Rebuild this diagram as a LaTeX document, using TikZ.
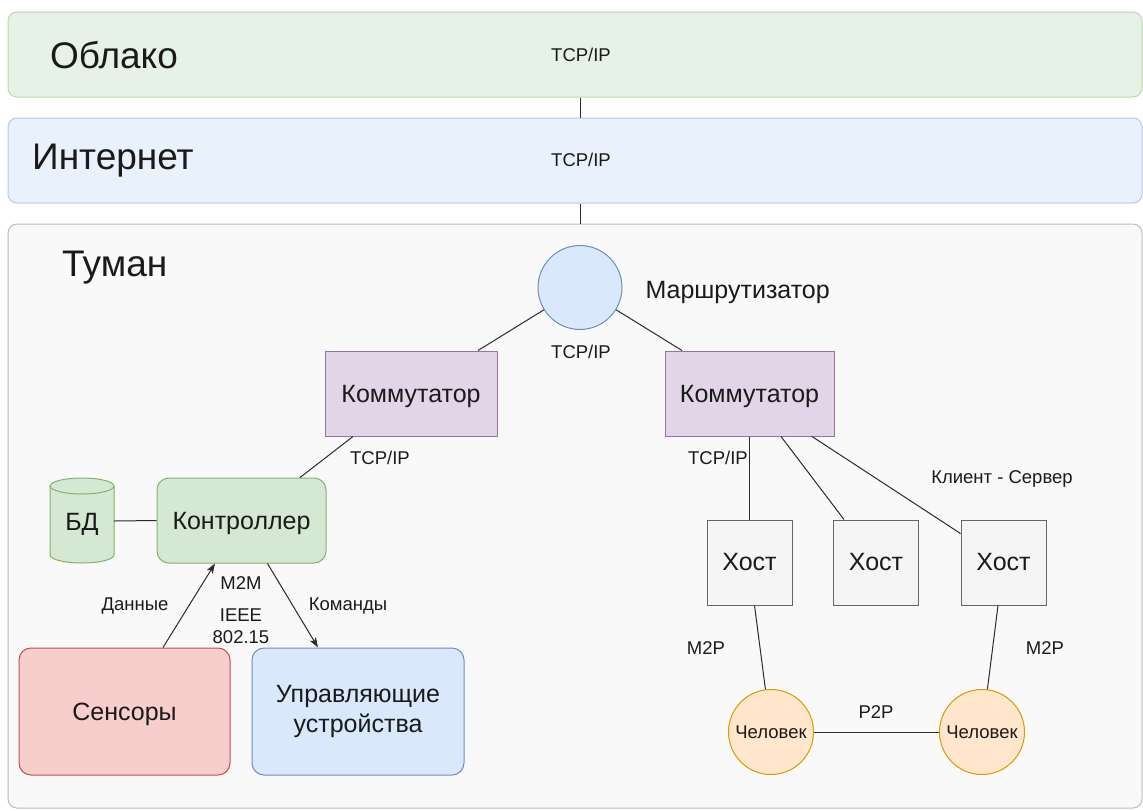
\documentclass[tikz,border=0pt]{standalone}
\usepackage{fontspec}
\setmainfont{Liberation Sans}
\usetikzlibrary{arrows.meta}
\definecolor{cloudfill}{HTML}{E7F2E6}
\definecolor{clouddraw}{HTML}{B9D9AB}
\definecolor{netfill}{HTML}{E9F1FC}
\definecolor{netdraw}{HTML}{B4C9E6}
\definecolor{fogfill}{HTML}{F9F9F9}
\definecolor{fogdraw}{HTML}{BDBDBD}
\definecolor{bluefill}{HTML}{DAE8FC}
\definecolor{bluedraw}{HTML}{6C8EBF}
\definecolor{purfill}{HTML}{E1D5E7}
\definecolor{purdraw}{HTML}{9673A6}
\definecolor{grnfill}{HTML}{D5E8D4}
\definecolor{grndraw}{HTML}{82B366}
\definecolor{redfill}{HTML}{F8CECC}
\definecolor{reddraw}{HTML}{B85450}
\definecolor{gryfill}{HTML}{F5F5F5}
\definecolor{grydraw}{HTML}{666666}
\definecolor{orfill}{HTML}{FFE6CC}
\definecolor{ordraw}{HTML}{D79B00}
\definecolor{txt}{HTML}{1A1A1A}
\definecolor{linec}{HTML}{2B2B2B}
\tikzset{
  band/.style={rectangle, rounded corners=9pt, line width=1pt, minimum width=1134pt, inner sep=0pt},
  bigtxt/.style={font=\fontsize{37}{42}\selectfont, text=txt, inner sep=0pt},
  lbl/.style={font=\fontsize{18.5}{22}\selectfont, text=txt, inner sep=0pt, align=center},
  nodebox/.style={rectangle, line width=1pt, inner sep=0pt, align=center, text=txt, font=\fontsize{25}{30}\selectfont},
  fixv/.style={text height=22.6pt, text depth=5.3pt},
  roundbox/.style={nodebox, rounded corners=12pt},
  person/.style={circle, line width=1pt, fill=orfill, draw=ordraw, minimum size=85pt, inner sep=0pt, text=txt, font=\fontsize{18.5}{22}\selectfont},
  conn/.style={line width=1pt, draw=linec},
  arr/.style={conn, -{Stealth[length=10pt,width=7pt,inset=2.5pt]}}
}
\begin{document}
\begin{tikzpicture}[x=1pt,y=-1pt]
\useasboundingbox (0,0) rectangle (1143,811);
\fill[white] (0,0) rectangle (1143,811);

% bands
\node[band, fill=cloudfill, draw=clouddraw, minimum height=85pt] (cloud) at (575,54.5) {};
\node[band, fill=netfill, draw=netdraw, minimum height=85pt] (net) at (575,160.5) {};
\node[band, fill=fogfill, draw=fogdraw, minimum height=584pt] (fog) at (575,516) {};

\draw[conn] ([xshift=5pt]cloud.south) -- ([xshift=5pt]net.north);
\draw[conn] ([xshift=5pt]net.south) -- ([xshift=5pt]fog.north);

\node[bigtxt, anchor=west] (tcloud) at (50,55) {Облако};
\node[bigtxt, anchor=west] (tnet) at (32,161) {Интернет};
\node[bigtxt, anchor=west] (tfog) at (62,268) {Туман};
\node[lbl] (lcloud) at (581,55) {TCP/IP};
\node[lbl] (lnet) at (581,160) {TCP/IP};

% router and switches
\node[circle, line width=1pt, fill=bluefill, draw=bluedraw, minimum size=84pt, inner sep=0pt] (router) at (580,287.5) {};
\node[nodebox, fixv, anchor=west] (trouter) at (645,290) {Маршрутизатор};
\node[lbl] (lrouter) at (581,352) {TCP/IP};

\node[nodebox, fixv, fill=purfill, draw=purdraw, minimum width=172pt, minimum height=85pt] (swL) at (411,393.5) {Коммутатор};
\node[nodebox, fixv, fill=purfill, draw=purdraw, minimum width=169pt, minimum height=85pt] (swR) at (749.5,393.5) {Коммутатор};

\draw[conn] (router) -- ([xshift=67pt]swL.north);
\draw[conn] (router) -- ([xshift=-67.5pt]swR.north);

% left part
\node[roundbox, fixv, fill=grnfill, draw=grndraw, minimum width=169pt, minimum height=85pt] (ctrl) at (241.5,520.5) {Контроллер};
\node[rectangle, minimum width=64pt, minimum height=85pt, inner sep=0pt] (db) at (82,521) {};
\draw[line width=1pt, fill=grnfill, draw=grndraw] (50,486) -- (50,555) arc[start angle=180, end angle=360, x radius=32pt, y radius=8pt] -- (114,486) arc[start angle=0, end angle=180, x radius=32pt, y radius=8pt] -- cycle;
\draw[line width=1pt, draw=grndraw] (50,486) arc[start angle=180, end angle=360, x radius=32pt, y radius=8pt];
\node[nodebox, fixv] (tdb) at (82,522) {БД};
\draw[conn] (db.east) -- (ctrl.west);

\draw[conn] ([xshift=-58pt]swL.south) -- ([xshift=58.5pt]ctrl.north);
\node[lbl] (lswL) at (380,458) {TCP/IP};

\node[roundbox, fixv, fill=redfill, draw=reddraw, minimum width=211pt, minimum height=127pt] (sens) at (124.5,711.5) {Сенсоры};
\node[roundbox, fill=bluefill, draw=bluedraw, minimum width=212pt, minimum height=127pt] (act) at (358,711.5) {Управляющие\\устройства};

\draw[arr] ([xshift=38.5pt]sens.north) -- ([xshift=-26.5pt]ctrl.south);
\draw[arr] ([xshift=26pt]ctrl.south) -- ([xshift=-40pt]act.north);

\node[lbl] (ldata) at (135,606) {Данные};
\node[lbl] (lm2m) at (241,583) {M2M};
\node[lbl] (lieee) at (241,626) {IEEE\\802.15};
\node[lbl] (lcmd) at (348,606) {Команды};

% right part
\node[nodebox, fill=gryfill, draw=grydraw, minimum width=85pt, minimum height=85pt] (h1) at (749.5,562.5) {Хост};
\node[nodebox, fill=gryfill, draw=grydraw, minimum width=85pt, minimum height=85pt] (h2) at (876,562.5) {Хост};
\node[nodebox, fill=gryfill, draw=grydraw, minimum width=85pt, minimum height=85pt] (h3) at (1003.5,562.5) {Хост};

\draw[conn] (swR.south) -- (h1.north);
\draw[conn] ([xshift=31.5pt]swR.south) -- ([xshift=-32pt]h2.north);
\draw[conn] ([xshift=62.5pt]swR.south) -- ([yshift=-14pt]h3.north west);

\node[lbl, anchor=east] (lswR) at (748,458) {TCP/IP};
\node[lbl] (lcs) at (1002,479) {Клиент - Сервер};

\node[person] (p1) at (771,732) {Человек};
\node[person] (p2) at (982,732) {Человек};

\draw[conn] ([xshift=5pt]h1.south) -- (p1);
\draw[conn] ([xshift=-5.5pt]h3.south) -- (p2);
\draw[conn] (p1) -- (p2);

\node[lbl] (lm2p1) at (706,648) {M2P};
\node[lbl] (lm2p2) at (1045,648) {M2P};
\node[lbl] (lp2p) at (876,712) {P2P};
\end{tikzpicture}
\end{document}
